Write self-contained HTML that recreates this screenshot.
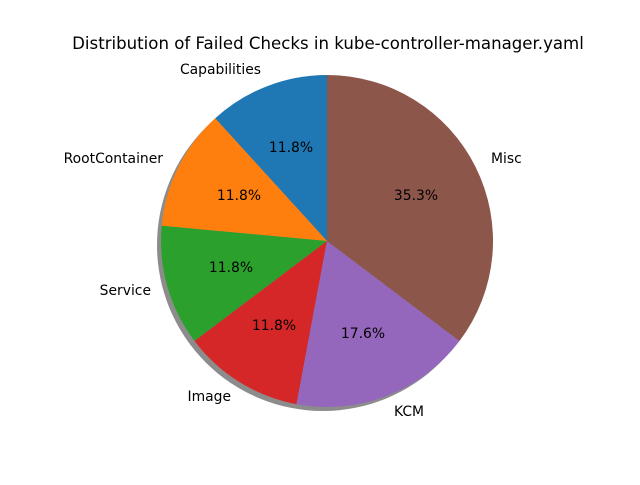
<!DOCTYPE html>
<html><head><style>body{margin:0;background:#fff}</style></head><body>
<svg width="640" height="480" xmlns="http://www.w3.org/2000/svg" font-family="'DejaVu Sans','Liberation Sans',sans-serif">
<rect width="640" height="480" fill="#fff"/>
<text x="328" y="49" font-size="16.6" text-anchor="middle">Distribution of Failed Checks in kube-controller-manager.yaml</text>
<circle cx="323" cy="245" r="166" fill="#000" fill-opacity="0.45"/>
<g stroke="none">
<path d="M327,241 L327,75 A166,166 0 0 0 215.2,118.3 Z" fill="#1f77b4"/>
<path d="M327,241 L215.2,118.3 A166,166 0 0 0 161.7,225.7 Z" fill="#ff7f0e"/>
<path d="M327,241 L161.7,225.7 A166,166 0 0 0 194.5,341 Z" fill="#2ca02c"/>
<path d="M327,241 L194.5,341 A166,166 0 0 0 296.5,404.2 Z" fill="#d62728"/>
<path d="M327,241 L296.5,404.2 A166,166 0 0 0 459.5,341 Z" fill="#9467bd"/>
<path d="M327,241 L459.5,341 A166,166 0 0 0 327,75 Z" fill="#8c564b"/>
</g>
<g font-size="13.9" fill="#000">
<text x="261" y="74" text-anchor="end">Capabilities</text>
<text x="163" y="163" text-anchor="end">RootContainer</text>
<text x="151" y="295" text-anchor="end">Service</text>
<text x="231" y="401" text-anchor="end">Image</text>
<text x="394" y="416">KCM</text>
<text x="491" y="163">Misc</text>
<g text-anchor="middle">
<text x="291" y="152">11.8%</text>
<text x="239" y="200">11.8%</text>
<text x="231" y="272">11.8%</text>
<text x="274" y="330">11.8%</text>
<text x="363" y="338">17.6%</text>
<text x="416" y="200">35.3%</text>
</g></g>
</svg>
</body></html>
